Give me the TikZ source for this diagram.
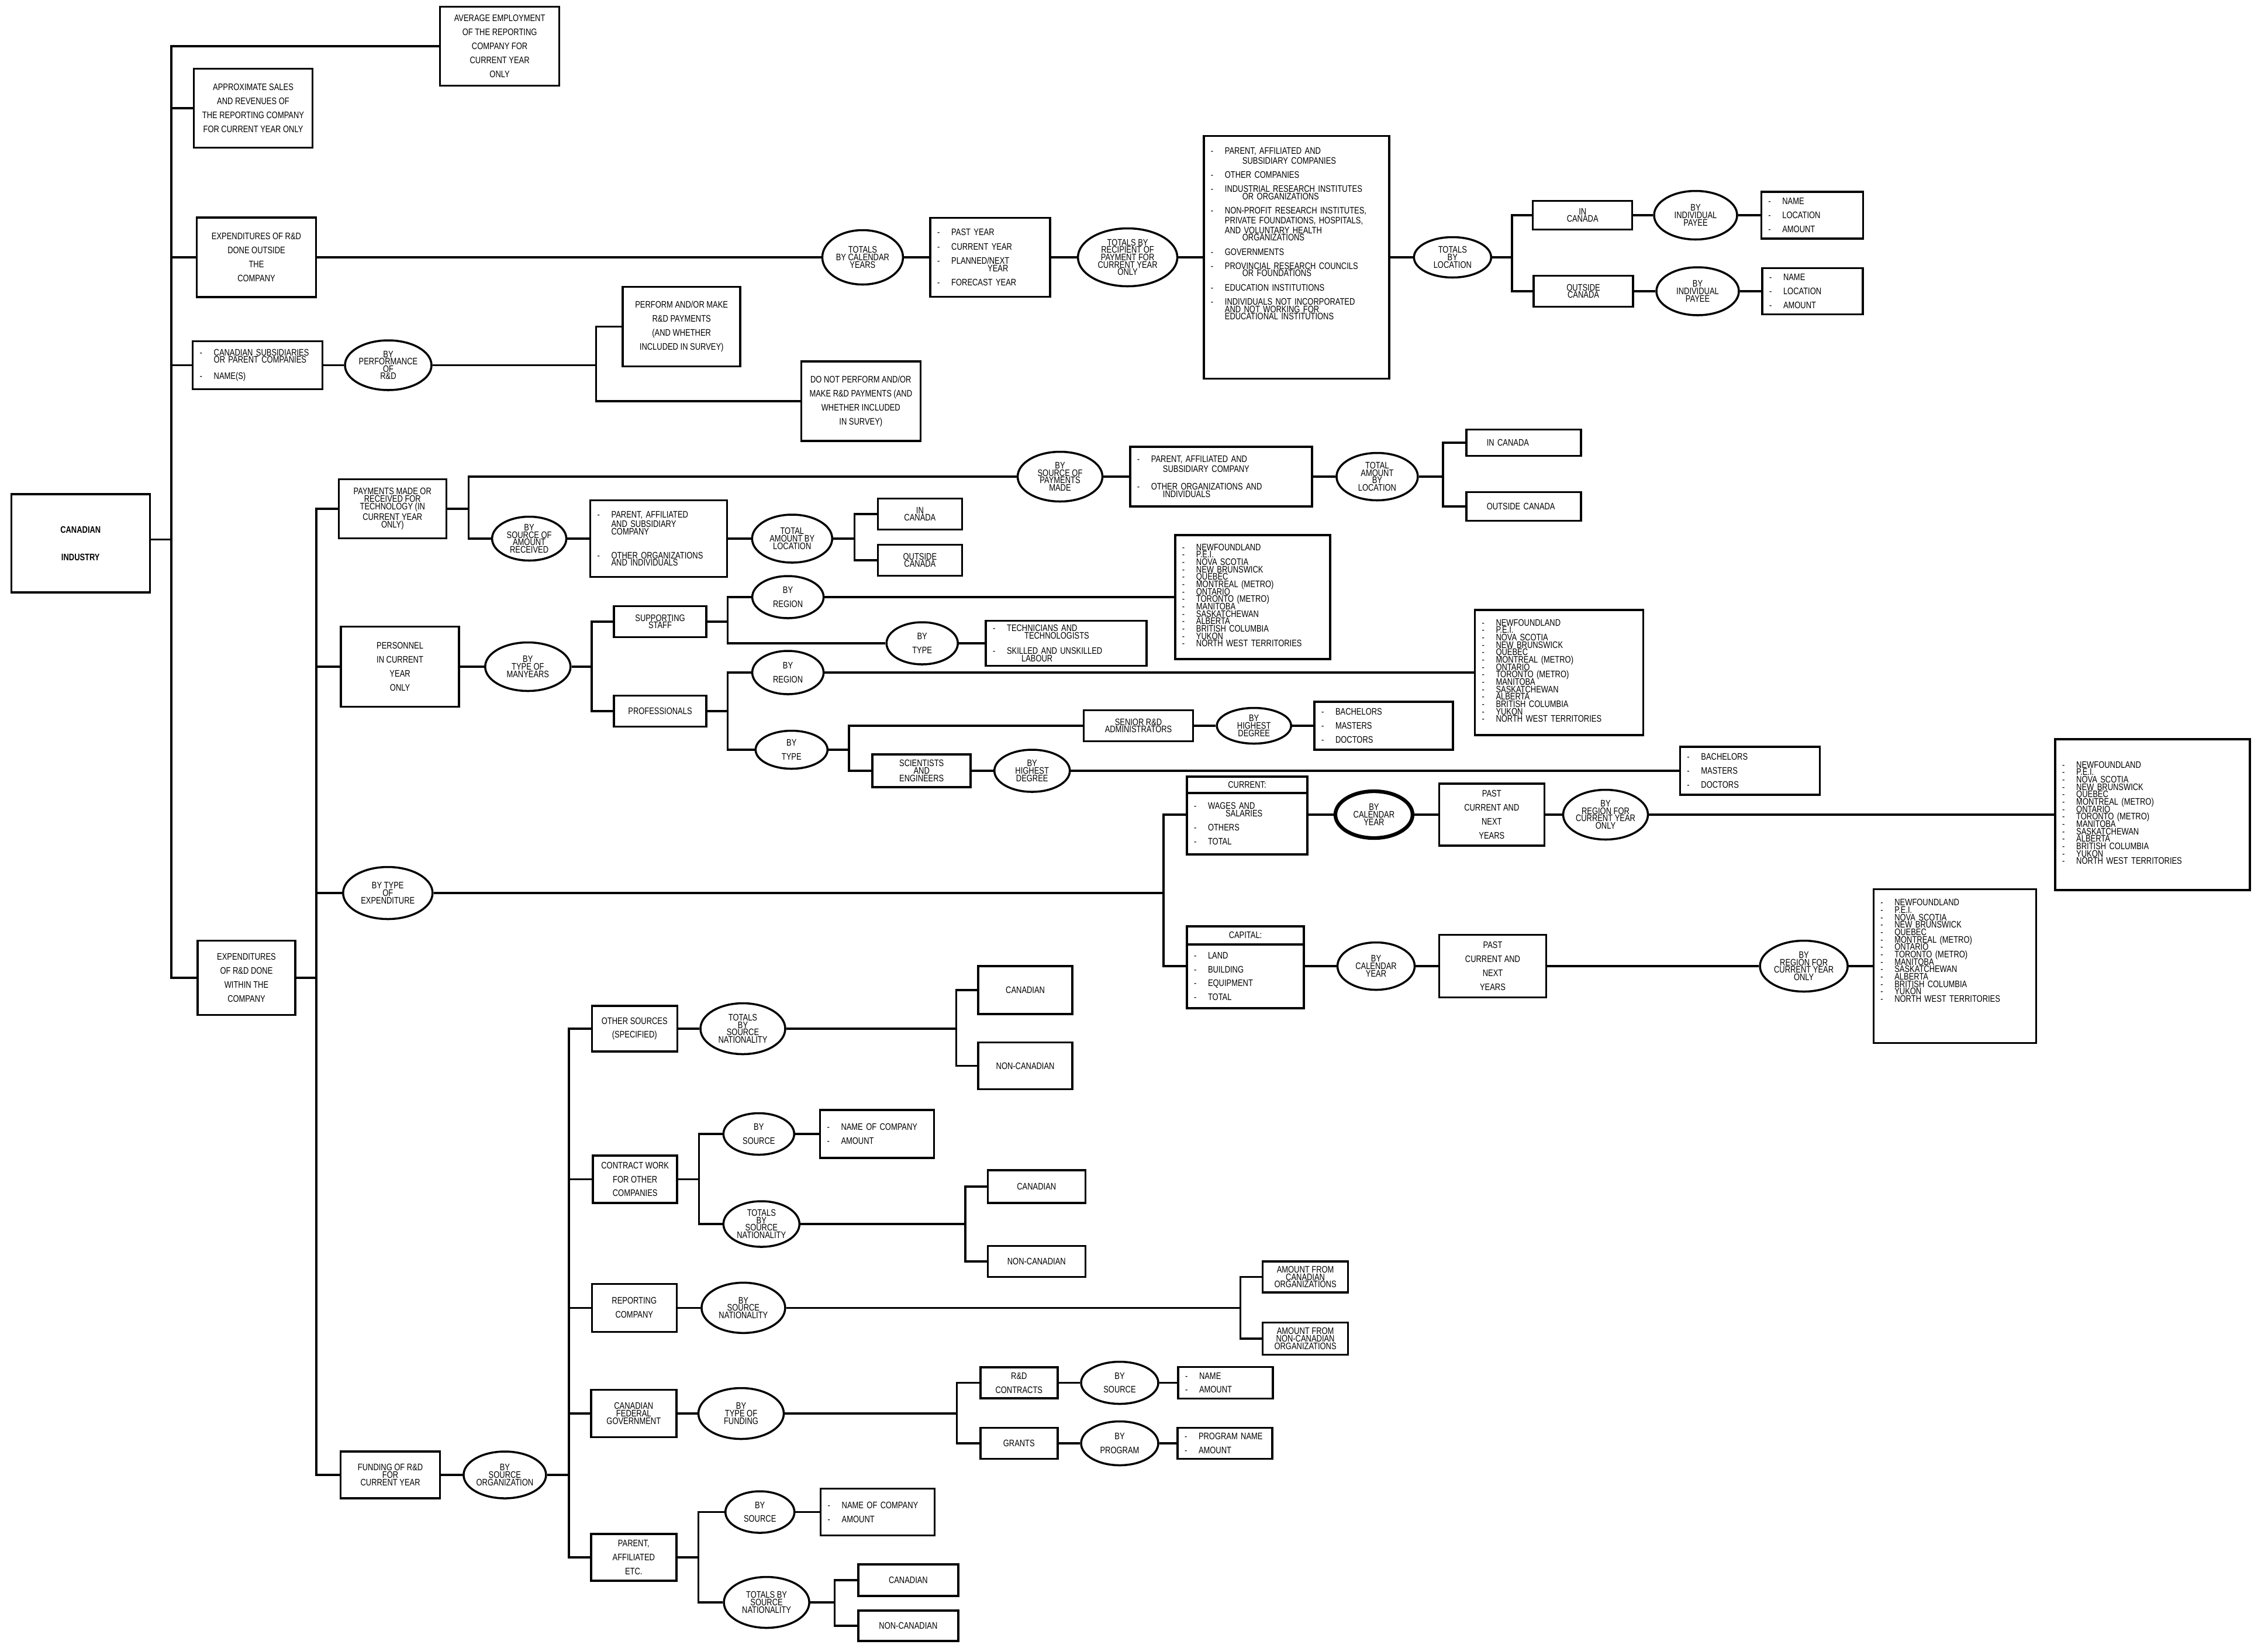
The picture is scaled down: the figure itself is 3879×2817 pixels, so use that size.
\documentclass[tikz,border=0pt]{standalone}
\usepackage{fontspec}
\setmainfont{Liberation Sans}[FakeStretch=0.8]
\usepackage{tikz}
\usetikzlibrary{shapes.geometric}

\newcommand\itm{\makebox[2.4mm][l]{-}}
\newcommand\cont{\hspace*{2.4mm}}
\newcommand\pv[1]{\itm\smash{#1}}
\newcommand\topbox[3]{\parbox[c][#1][t]{#2}{\raggedright #3}}
\newcommand\provlist{\pv{NEWFOUNDLAND}\\\pv{P.E.I.}\\\pv{NOVA SCOTIA}\\\pv{NEW BRUNSWICK}\\\pv{QUEBEC}\\\pv{MONTREAL (METRO)}\\\pv{ONTARIO}\\\pv{TORONTO (METRO)}\\\pv{MANITOBA}\\\pv{SASKATCHEWAN}\\\pv{ALBERTA}\\\pv{BRITISH COLUMBIA}\\\pv{YUKON}\\\pv{NORTH WEST TERRITORIES}}

\begin{document}
\begin{tikzpicture}[x=0.1mm, y=-0.1mm,
    every node/.style={font=\fontsize{4.6}{3.6}\selectfont},
    box/.style 2 args={draw, line width=1pt, rectangle, minimum width=#1, minimum height=#2, align=center, inner sep=0.5mm},
    lst/.style 2 args={draw, line width=1pt, rectangle, text width=#1, minimum height=#2, align=left, inner xsep=1.2mm, inner ysep=0.5mm},
    oval/.style 2 args={draw, line width=1pt, ellipse, minimum width=#1, minimum height=#2, inner sep=0pt, align=center},
    link/.style={line width=1pt},
    wide/.style={font=\fontsize{4.6}{6.8}\selectfont}]
    \useasboundingbox (0,0) rectangle (3879,2817);

    % Root and first trunk
    \node[box={23.7mm}{16.8mm}, wide] (ind) at (137.8,929) {\bfseries CANADIAN\\[2.3mm]\bfseries INDUSTRY};
    \node[box={20.4mm}{13.5mm}, wide] (avg) at (854.6,79) {AVERAGE EMPLOYMENT\\OF THE REPORTING\\COMPANY FOR\\CURRENT YEAR\\ONLY};
    \node[box={20.3mm}{13.5mm}, wide] (sales) at (433,185) {APPROXIMATE SALES\\AND REVENUES OF\\THE REPORTING COMPANY\\FOR CURRENT YEAR ONLY};
    \node[box={20.4mm}{13.6mm}, wide] (expout) at (438.5,440) {EXPENDITURES OF R\&D\\DONE OUTSIDE\\THE\\COMPANY};
    \node[lst={19.8mm}{8.2mm}] (subs) at (440.7,624.5) {\itm CANADIAN SUBSIDIARIES\\\cont OR PARENT COMPANIES\\[1.5mm]\itm NAME(S)};
    \node[box={16.7mm}{12.7mm}, wide] (expin) at (421.5,1672) {EXPENDITURES\\OF R\&D DONE\\WITHIN THE\\COMPANY};

    % R&D done outside
    \node[oval={13.8mm}{9.3mm}] (calyrs) at (1475.4,440) {TOTALS\\BY CALENDAR\\YEARS};
    \node[lst={18.1mm}{13.5mm}] (years) at (1693.7,440) {\itm PAST YEAR\\[3.3pt]\itm CURRENT YEAR\\[3.3pt]\itm PLANNED/NEXT\\\hspace*{8.6mm}YEAR\\[3.3pt]\itm FORECAST YEAR};
    \node[oval={17mm}{9.9mm}] (recip) at (1928.6,440) {TOTALS BY\\RECIPIENT OF\\PAYMENT FOR\\CURRENT YEAR\\ONLY};
    \node[lst={29.3mm}{41.5mm}] (reclist) at (2217.4,440) {\topbox{40mm}{29.3mm}{\vspace*{1.2mm}\itm PARENT, AFFILIATED AND\\\cont\hspace*{3mm}SUBSIDIARY COMPANIES\\[3.3pt]\itm OTHER COMPANIES\\[3.3pt]\itm INDUSTRIAL RESEARCH INSTITUTES\\\cont\hspace*{3mm}OR ORGANIZATIONS\\[3.3pt]\itm NON-PROFIT RESEARCH INSTITUTES,\\\cont PRIVATE FOUNDATIONS, HOSPITALS,\\\cont AND VOLUNTARY HEALTH\\\cont\hspace*{3mm}ORGANIZATIONS\\[3.3pt]\itm GOVERNMENTS\\[3.3pt]\itm PROVINCIAL RESEARCH COUNCILS\\\cont\hspace*{3mm}OR FOUNDATIONS\\[3.3pt]\itm EDUCATION INSTITUTIONS\\[3.3pt]\itm INDIVIDUALS NOT INCORPORATED\\\cont AND NOT WORKING FOR\\\cont EDUCATIONAL INSTITUTIONS}};
    \node[oval={13.2mm}{6.9mm}] (loc) at (2484.3,440) {TOTALS\\BY\\LOCATION};
    \coordinate (locbus) at (2586,440);
    \node[box={17mm}{4.9mm}] (incan) at (2706.7,368) {IN\\CANADA};
    \node[box={17mm}{5.3mm}] (outcan) at (2708,498) {OUTSIDE\\CANADA};
    \node[oval={14.2mm}{8.3mm}] (payee1) at (2900,368) {BY\\INDIVIDUAL\\PAYEE};
    \node[oval={14.1mm}{8.2mm}] (payee2) at (2903.5,498) {BY\\INDIVIDUAL\\PAYEE};
    \node[lst={15mm}{8mm}, wide] (nla1) at (3099.3,368) {\itm NAME\\\itm LOCATION\\\itm AMOUNT};
    \node[lst={14.8mm}{7.9mm}, wide] (nla2) at (3100,498) {\itm NAME\\\itm LOCATION\\\itm AMOUNT};

    % Subsidiaries
    \node[oval={14.8mm}{8.5mm}] (perf) at (664,624.5) {BY\\PERFORMANCE\\OF\\R\&D};
    \coordinate (perfbus) at (1019.6,624.5);
    \node[box={20.1mm}{13.6mm}, wide] (perfyes) at (1165.7,558.6) {PERFORM AND/OR MAKE\\R\&D PAYMENTS\\(AND WHETHER\\INCLUDED IN SURVEY)};
    \node[box={20.4mm}{13.6mm}, wide] (perfno) at (1472.3,686) {DO NOT PERFORM AND/OR\\MAKE R\&D PAYMENTS (AND\\WHETHER INCLUDED\\IN SURVEY)};

    % Payments for technology
    \node[box={18.4mm}{10.1mm}] (pay) at (671.3,870) {PAYMENTS MADE OR\\RECEIVED FOR\\TECHNOLOGY (IN\\CURRENT YEAR\\ONLY)};
    \coordinate (paybus) at (801.3,870);
    \node[oval={14.5mm}{8.5mm}] (srcmade) at (1813,815) {BY\\SOURCE OF\\PAYMENTS\\MADE};
    \node[lst={28.7mm}{10.2mm}] (madelist) at (2088.4,815) {\itm PARENT, AFFILIATED AND\\\cont\hspace*{2mm}SUBSIDIARY COMPANY\\[5pt]\itm OTHER ORGANIZATIONS AND\\\cont\hspace*{2mm}INDIVIDUALS};
    \node[oval={13.9mm}{8.1mm}] (totloc1) at (2355.4,815) {TOTAL\\AMOUNT\\BY\\LOCATION};
    \coordinate (locbus1) at (2467.9,815);
    \node[lst={17.2mm}{4.5mm}] (incan2) at (2605.8,757) {\hspace*{2.3mm}IN CANADA};
    \node[lst={17.2mm}{4.9mm}] (outcan2) at (2605.8,866) {\hspace*{2.3mm}OUTSIDE CANADA};
    \node[oval={12.7mm}{7.5mm}] (srcrecv) at (905.1,921) {BY\\SOURCE OF\\AMOUNT\\RECEIVED};
    \node[lst={21mm}{13.1mm}] (recvlist) at (1126.6,921) {\itm PARENT, AFFILIATED\\\cont AND SUBSIDIARY\\\cont COMPANY\\[8pt]\itm OTHER ORGANIZATIONS\\\cont AND INDIVIDUALS};
    \node[oval={13.7mm}{8.2mm}] (totloc2) at (1354.8,921) {TOTAL\\AMOUNT BY\\LOCATION};
    \coordinate (locbus2) at (1461.5,921);
    \node[box={14.4mm}{5.3mm}] (incan3) at (1573.4,879) {IN\\CANADA};
    \node[box={14.4mm}{5.3mm}] (outcan3) at (1573.4,958) {OUTSIDE\\CANADA};

    % Personnel
    \node[box={20.2mm}{13.7mm}, wide] (pers) at (684.1,1140) {PERSONNEL\\IN CURRENT\\YEAR\\ONLY};
    \node[oval={14.6mm}{8.3mm}] (manyrs) at (902.8,1140) {BY\\TYPE OF\\MANYEARS};
    \coordinate (persbus) at (1011.8,1140);
    \node[box={15.8mm}{5.3mm}] (supp) at (1129,1063) {SUPPORTING\\STAFF};
    \node[box={15.8mm}{5.3mm}] (prof) at (1129,1216) {PROFESSIONALS};
    \coordinate (suppbus) at (1244.3,1063);
    \node[oval={12.2mm}{7.2mm}, wide] (reg1) at (1347.6,1021) {BY\\REGION};
    \node[lst={24.1mm}{21.2mm}] (prov1) at (2142.4,1021) {\provlist};
    \node[oval={12.2mm}{7.2mm}, wide] (type1) at (1577.2,1100) {BY\\TYPE};
    \node[lst={25.1mm}{7.7mm}] (techlist) at (1823.6,1100) {\itm TECHNICIANS AND\\\cont\hspace*{3mm}TECHNOLOGISTS\\[4pt]\itm SKILLED AND UNSKILLED\\\cont\hspace*{2.5mm}LABOUR};
    \coordinate (profbus) at (1244.3,1216);
    \node[oval={12.2mm}{7.4mm}, wide] (reg2) at (1347.6,1150) {BY\\REGION};
    \node[lst={26.4mm}{21.4mm}] (prov2) at (2666.5,1150) {\provlist};
    \node[oval={12.3mm}{6.5mm}, wide] (type2) at (1353.8,1282) {BY\\TYPE};
    \coordinate (typebus) at (1451.9,1282);
    \node[box={18.7mm}{5.3mm}] (senior) at (1947,1241) {SENIOR R\&D\\ADMINISTRATORS};
    \node[oval={12.7mm}{6.1mm}] (hd1) at (2144.7,1241) {BY\\HIGHEST\\DEGREE};
    \node[lst={21.3mm}{8.2mm}, wide] (deg1) at (2366.5,1241) {\itm BACHELORS\\\itm MASTERS\\\itm DOCTORS};
    \node[box={16.8mm}{5.6mm}] (sci) at (1576.2,1318) {SCIENTISTS\\AND\\ENGINEERS};
    \node[oval={12.9mm}{7.2mm}] (hd2) at (1765.2,1318) {BY\\HIGHEST\\DEGREE};
    \node[lst={21.5mm}{8.2mm}, wide] (deg2) at (2992.9,1318) {\itm BACHELORS\\\itm MASTERS\\\itm DOCTORS};

    % Type of expenditure
    \node[oval={15.3mm}{8.9mm}] (exptype) at (663.3,1527) {BY TYPE\\OF\\EXPENDITURE};
    \coordinate (expbus) at (1989.8,1527);
    \node[box={20.6mm}{2.8mm}] (curh) at (2133,1342.1) {CURRENT:};
    \node[lst={18.2mm}{10.5mm}] (curl) at (2133,1408.7) {\itm WAGES AND\\\cont\hspace*{3mm}SALARIES\\[3.3pt]\itm OTHERS\\[3.3pt]\itm TOTAL};
    \node[oval={13.2mm}{8mm}, line width=1.8pt] (calyr1) at (2349.9,1393) {BY\\CALENDAR\\YEAR};
    \node[box={18mm}{10.6mm}, wide] (pcny1) at (2551.3,1393) {PAST\\CURRENT AND\\NEXT\\YEARS};
    \node[oval={14.5mm}{8.5mm}] (rgn1) at (2746,1393) {BY\\REGION FOR\\CURRENT YEAR\\ONLY};
    \node[lst={30.9mm}{25.8mm}] (prov3) at (3681.7,1393) {\provlist};
    \node[box={20mm}{3.1mm}] (caph) at (2130,1599.3) {CAPITAL:};
    \node[lst={17.6mm}{10.9mm}, wide] (capl) at (2130,1669.5) {\itm LAND\\\itm BUILDING\\\itm EQUIPMENT\\\itm TOTAL};
    \node[oval={13.2mm}{8.1mm}] (calyr2) at (2353.5,1652) {BY\\CALENDAR\\YEAR};
    \node[box={18.3mm}{10.7mm}, wide] (pcny2) at (2553,1652) {PAST\\CURRENT AND\\NEXT\\YEARS};
    \node[oval={15mm}{8.7mm}] (rgn2) at (3085.1,1652) {BY\\REGION FOR\\CURRENT YEAR\\ONLY};
    \node[lst={25.4mm}{26.3mm}] (prov4) at (3343.3,1652) {\topbox{25mm}{25.4mm}{\vspace*{1.7mm}\provlist}};

    % Funding of R&D
    \node[box={17mm}{8mm}] (fund) at (667.6,2522) {FUNDING OF R\&D\\FOR\\CURRENT YEAR};
    \node[oval={14.1mm}{8mm}] (bso) at (863.4,2522) {BY\\SOURCE\\ORGANIZATION};
    \coordinate (tr3) at (973,2522);
    \node[box={14.6mm}{7.8mm}, wide] (oth) at (1085.3,1759) {OTHER SOURCES\\(SPECIFIED)};
    \node[oval={14.5mm}{8.7mm}] (tsn1) at (1270.5,1759) {TOTALS\\BY\\SOURCE\\NATIONALITY};
    \coordinate (othbus) at (1635.7,1759);
    \node[box={16.1mm}{8.2mm}] (can1) at (1753.6,1693) {CANADIAN};
    \node[box={16.1mm}{8mm}] (noncan1) at (1753.6,1822.5) {NON-CANADIAN};
    \node[box={14.4mm}{8.1mm}, wide] (cw) at (1086.2,2016.5) {CONTRACT WORK\\FOR OTHER\\COMPANIES};
    \coordinate (cwbus) at (1195.5,2016.5);
    \node[oval={12.1mm}{7.1mm}, wide] (src1) at (1297.8,1939) {BY\\SOURCE};
    \node[lst={17.1mm}{8.2mm}, wide] (nc1) at (1500,1939) {\itm NAME OF COMPANY\\\itm AMOUNT};
    \node[oval={13mm}{7.8mm}] (tsn2) at (1302.3,2093) {TOTALS\\BY\\SOURCE\\NATIONALITY};
    \coordinate (tsnbus2) at (1650.9,2093);
    \node[box={16.7mm}{5.6mm}] (can2) at (1772.8,2029) {CANADIAN};
    \node[box={16.7mm}{5.3mm}] (noncan2) at (1772.8,2157) {NON-CANADIAN};
    \node[box={14.5mm}{8.2mm}, wide] (rep) at (1084.8,2236.3) {REPORTING\\COMPANY};
    \node[oval={14.3mm}{8.6mm}] (bsn) at (1271.4,2236.3) {BY\\SOURCE\\NATIONALITY};
    \coordinate (repbus) at (2121.5,2236.3);
    \node[box={14.6mm}{5.3mm}] (amtcan) at (2232.6,2183.5) {AMOUNT FROM\\CANADIAN\\ORGANIZATIONS};
    \node[box={14.6mm}{5.5mm}] (amtnon) at (2232.6,2289) {AMOUNT FROM\\NON-CANADIAN\\ORGANIZATIONS};
    \node[box={14.6mm}{8.1mm}] (fed) at (1083.8,2417) {CANADIAN\\FEDERAL\\GOVERNMENT};
    \node[oval={14.6mm}{8.7mm}] (tof) at (1267.5,2417) {BY\\TYPE OF\\FUNDING};
    \coordinate (fedbus) at (1636.6,2417);
    \node[box={13.2mm}{5.3mm}, wide] (rdc) at (1742.8,2364.5) {R\&D\\CONTRACTS};
    \node[oval={13.2mm}{7.2mm}, wide] (bysrc) at (1915,2364.5) {BY\\SOURCE};
    \node[lst={13.8mm}{5.4mm}, wide] (nameamt) at (2096,2364.5) {\itm NAME\\\itm AMOUNT};
    \node[box={13.2mm}{5.3mm}] (grants) at (1742.8,2468) {GRANTS};
    \node[oval={13.2mm}{7.5mm}, wide] (byprog) at (1915,2468) {BY\\PROGRAM};
    \node[lst={13.8mm}{5.3mm}, wide] (progamt) at (2095,2468) {\itm PROGRAM NAME\\\itm AMOUNT};
    \node[box={14.6mm}{8mm}, wide] (par) at (1083.8,2663) {PARENT,\\AFFILIATED\\ETC.};
    \coordinate (parbus) at (1194.6,2663);
    \node[oval={11.8mm}{7.1mm}, wide] (src2) at (1299.7,2585.5) {BY\\SOURCE};
    \node[lst={17.1mm}{8mm}, wide] (nc2) at (1501.2,2585.5) {\itm NAME OF COMPANY\\\itm AMOUNT};
    \node[oval={14.6mm}{8.7mm}] (tsn3) at (1311.1,2740) {TOTALS BY\\SOURCE\\NATIONALITY};
    \coordinate (tsnbus3) at (1427.7,2740);
    \node[box={17.1mm}{5.4mm}] (can3) at (1553.4,2702) {CANADIAN};
    \node[box={17.1mm}{5.2mm}] (noncan3) at (1553.4,2780) {NON-CANADIAN};

    % Trunks
    \coordinate (tr1) at (293,922.7);
    \draw[link] (ind.east |- tr1) -- (tr1);
    \draw[link] (avg.west) -| (tr1) |- (expin.west);
    \foreach \n in {sales, expout, subs}
        \draw[link] (\n.west) -- (\n.west -| tr1);
    \coordinate (tr2) at (541,1672);
    \draw[link] (expin.east) -- (tr2);
    \draw[link] (pay.west) -| (tr2) |- (fund.west);
    \foreach \n in {pers, exptype}
        \draw[link] (\n.west) -- (\n.west -| tr2);
    \draw[link] (bso.east) -- (tr3);
    \draw[link] (oth.west) -| (tr3) |- (par.west);
    \foreach \n in {cw, rep, fed}
        \draw[link] (\n.west) -- (\n.west -| tr3);

    % Straight links
    \foreach \a/\b in {expout/calyrs, calyrs/years, years/recip, recip/reclist, reclist/loc,
        incan/payee1, payee1/nla1, outcan/payee2, payee2/nla2, subs/perf,
        srcmade/madelist, madelist/totloc1, srcrecv/recvlist, recvlist/totloc2,
        pers/manyrs, reg1/prov1, type1/techlist, reg2/prov2,
        senior/hd1, hd1/deg1, sci/hd2, hd2/deg2,
        calyr1/pcny1, pcny1/rgn1, rgn1/prov3, calyr2/pcny2, pcny2/rgn2, rgn2/prov4,
        fund/bso, oth/tsn1, src1/nc1, rep/bsn, fed/tof,
        rdc/bysrc, bysrc/nameamt, grants/byprog, byprog/progamt, src2/nc2}
        \draw[link] (\a.east) -- (\b.west);

    % Forks
    \foreach \p/\bus/\u/\d in {loc/locbus/incan/outcan, perf/perfbus/perfyes/perfno,
        pay/paybus/srcmade/srcrecv, totloc1/locbus1/incan2/outcan2, totloc2/locbus2/incan3/outcan3,
        manyrs/persbus/supp/prof, supp/suppbus/reg1/type1, prof/profbus/reg2/type2,
        type2/typebus/senior/sci, tsn1/othbus/can1/noncan1, cw/cwbus/src1/tsn2,
        tsn2/tsnbus2/can2/noncan2, bsn/repbus/amtcan/amtnon, tof/fedbus/rdc/grants,
        par/parbus/src2/tsn3, tsn3/tsnbus3/can3/noncan3} {
        \draw[link] (\p.east) -- (\bus);
        \draw[link] (\u.west) -| (\bus) |- (\d.west);
    }
    \draw[link] (exptype.east) -- (expbus);
    \draw[link] (curl.west |- calyr1) -| (expbus) |- (capl.west |- calyr2);
    \draw[link] (curl.east |- calyr1) -- (calyr1.west);
    \draw[link] (capl.east |- calyr2) -- (calyr2.west);
\end{tikzpicture}
\end{document}
